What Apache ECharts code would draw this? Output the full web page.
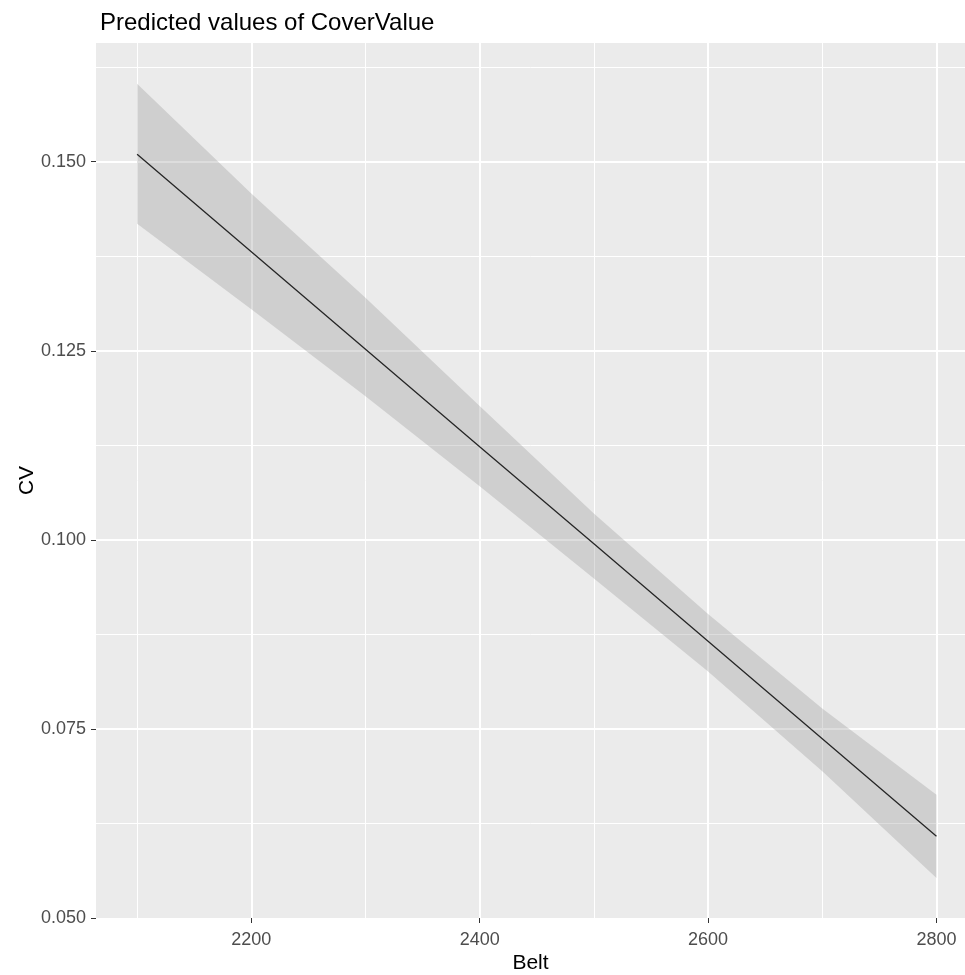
<!DOCTYPE html>
<html>
<head>
<meta charset="utf-8">
<script src="https://cdn.jsdelivr.net/npm/echarts@6/dist/echarts.min.js"></script>
<style>
html,body{margin:0;padding:0;background:#fff;}
#chart{width:965px;height:975px;}
</style>
</head>
<body>
<div id="chart"></div>
<script>
// Data
const titleText = "Predicted values of CoverValue";
const xName = "Belt";
const yName = "CV";
const belt      = [2100, 2200, 2300, 2400, 2500, 2600, 2700, 2800];
const predicted = [0.1510, 0.1381, 0.1252, 0.1123, 0.0995, 0.0866, 0.0737, 0.0608];
const upper     = [0.1603, 0.1458, 0.1320, 0.1177, 0.1035, 0.0902, 0.0777, 0.0663];
const lower     = [0.1418, 0.1305, 0.1190, 0.1071, 0.0949, 0.0826, 0.0694, 0.0553];

const xMin = 2064, xMax = 2825;
const yMin = 0.05, yMax = 0.1657;

const font = "'Liberation Sans', Arial, sans-serif";

const bandData = belt.map((b, i) => [b, lower[i], upper[i]]);
const lineData = belt.map((b, i) => [b, predicted[i]]);

const chart = echarts.init(document.getElementById('chart'), null, {renderer: 'canvas'});
chart.setOption({
  backgroundColor: '#ffffff',
  animation: false,
  title: {
    text: titleText,
    left: 95, top: 6,
    textStyle: {fontFamily: font, fontSize: 24, fontWeight: 'normal', color: '#000'}
  },
  grid: {left: 96, top: 43, right: 0, bottom: 57, show: true, backgroundColor: '#ebebeb', borderWidth: 0,
    containLabel: false, outerBoundsMode: 'none'},
  xAxis: [
    {
      type: 'value', min: xMin, max: xMax, splitNumber: 4,
      name: xName, nameLocation: 'middle', nameGap: 35, nameMoveOverlap: false,
      nameTextStyle: {fontFamily: font, fontSize: 21, color: '#000'},
      axisLine: {show: false},
      axisTick: {show: true, length: 5, lineStyle: {color: '#333', width: 1}},
      axisLabel: {fontFamily: font, fontSize: 18, color: '#4d4d4d', margin: 13,
        showMinLabel: false, showMaxLabel: false, formatter: v => String(Math.round(v))},
      splitLine: {show: true, showMinLine: false, showMaxLine: false, lineStyle: {color: '#ffffff', width: 2}}
    },
    {
      type: 'value', min: xMin, max: xMax, splitNumber: 8, position: 'bottom',
      axisLine: {show: false}, axisTick: {show: false}, axisLabel: {show: false},
      splitLine: {show: true, showMinLine: false, showMaxLine: false, lineStyle: {color: '#ffffff', width: 1}}
    }
  ],
  yAxis: [
    {
      type: 'value', min: yMin, max: yMax, interval: 0.025,
      name: yName, nameLocation: 'middle', nameGap: 58, nameRotate: 90, nameMoveOverlap: false,
      nameTextStyle: {fontFamily: font, fontSize: 21, color: '#000'},
      axisLine: {show: false},
      axisTick: {show: true, length: 5, lineStyle: {color: '#333', width: 1}},
      axisLabel: {fontFamily: font, fontSize: 18, color: '#4d4d4d', margin: 10, showMaxLabel: false,
        formatter: v => v.toFixed(3)},
      splitLine: {show: true, showMinLine: false, showMaxLine: false, lineStyle: {color: '#ffffff', width: 2}}
    },
    {
      type: 'value', min: yMin, max: yMax, interval: 0.0125, position: 'left',
      axisLine: {show: false}, axisTick: {show: false}, axisLabel: {show: false},
      splitLine: {show: true, showMinLine: false, showMaxLine: false, lineStyle: {color: '#ffffff', width: 1}}
    }
  ],
  series: [
    {
      type: 'custom', name: 'band', data: bandData,
      xAxisIndex: 0, yAxisIndex: 0,
      encode: {x: 0, y: [1, 2]},
      silent: true, z: 2, clip: true,
      renderItem: function (params, api) {
        if (params.dataIndex !== 0) return null;
        const top = bandData.map(d => api.coord([d[0], d[2]]));
        const bottom = bandData.slice().reverse().map(d => api.coord([d[0], d[1]]));
        return {
          type: 'polygon',
          shape: {points: top.concat(bottom)},
          style: {fill: 'rgba(150,150,150,0.32)'}
        };
      }
    },
    {
      type: 'line', name: 'predicted', data: lineData,
      xAxisIndex: 0, yAxisIndex: 0,
      symbol: 'none', lineStyle: {color: '#262626', width: 1.3}, z: 3
    }
  ]
});
</script>
</body>
</html>
